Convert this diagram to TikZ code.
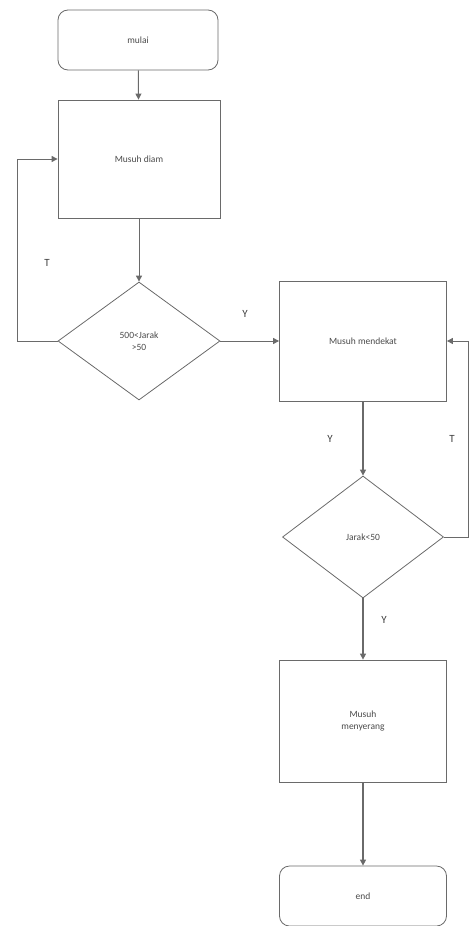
\documentclass[tikz,border=0pt]{standalone}
\usepackage{fontspec}
\setmainfont{Carlito}
\usetikzlibrary{shapes.geometric,arrows.meta}
\definecolor{ln}{HTML}{6A6A6A}
\definecolor{tx}{HTML}{4A4A4A}
\begin{document}
\begin{tikzpicture}[x=1pt,y=-1pt,
  every node/.style={font=\fontsize{9.5}{12}\selectfont, text=tx},
  term/.style={draw=ln, line width=0.8pt, rounded corners=10pt, minimum width=160pt, minimum height=60pt, inner sep=0pt},
  proc/.style={draw=ln, line width=0.8pt, minimum width=164pt, minimum height=120pt, inner sep=0pt, align=center},
  dec/.style={draw=ln, line width=0.8pt, diamond, aspect=1.38, minimum width=162pt, minimum height=118pt, inner sep=0pt, align=center},
  conn/.style={draw=ln, line width=1pt, -{Triangle[length=6pt,width=6pt]}},
  lbl/.style={font=\fontsize{11}{12}\selectfont, text=black!75}]
\useasboundingbox (0,0) rectangle (470,926);
\node[term] (mulai) at (138,40) {mulai};
\node[proc, minimum width=162pt, minimum height=118pt] (diam) at (139,159) {Musuh diam};
\node[dec] (d1) at (139,341) {500<Jarak\\>50};
\node[proc, minimum width=167pt, minimum height=120pt] (dekat) at (363,341) {Musuh mendekat};
\node[dec, minimum width=161pt, minimum height=122pt] (d2) at (363,537) {Jarak<50};
\node[proc, minimum width=167pt, minimum height=122pt] (serang) at (363,721) {Musuh\\menyerang};
\node[term, minimum width=167pt] (end) at (363,896) {end};
\coordinate (l1) at (17,341);
\coordinate (l2) at (17,159);
\coordinate (r1) at (468,537);
\coordinate (r2) at (468,341);
\draw[conn] (mulai) -- (diam);
\draw[conn] (diam) -- (d1);
\draw[conn] (d1.west) -- (l1) -- (l2) -- (diam.west);
\draw[conn] (d1.east) -- (dekat.west);
\draw[conn, line width=1.4pt] (dekat) -- (d2);
\draw[conn] (d2.east) -- (r1) -- (r2) -- (dekat.east);
\draw[conn, line width=1.3pt] (d2) -- (serang);
\draw[conn, line width=1.3pt] (serang) -- (end);
\node[lbl] (t1) at (47,263) {T};
\node[lbl] (y1) at (245,314) {Y};
\node[lbl] (y2) at (330,439) {Y};
\node[lbl] (t2) at (452,439) {T};
\node[lbl] (y3) at (384,620) {Y};
\end{tikzpicture}
\end{document}
